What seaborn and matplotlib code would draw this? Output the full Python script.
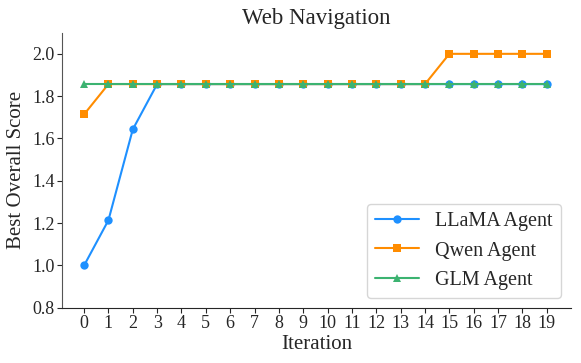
import numpy as np
import pandas as pd
import matplotlib
matplotlib.use("Agg")
import matplotlib.pyplot as plt
import seaborn as sns

iterations = list(range(20))
llama = [1.0, 1.214, 1.643] + [1.857] * 17
qwen = [1.714] + [1.857] * 14 + [2.0] * 5
glm = [1.857] * 20

df = pd.DataFrame({
    'Iteration': iterations * 3,
    'score': llama + qwen + glm,
    'agent': ['LLaMA Agent'] * 20 + ['Qwen Agent'] * 20 + ['GLM Agent'] * 20,
})

sns.set_style('ticks')
plt.rcParams['font.family'] = ['Liberation Serif', 'DejaVu Serif']

fig, ax = plt.subplots(figsize=(5.81, 3.63), dpi=100)
palette = {'LLaMA Agent': '#1E90FF', 'Qwen Agent': '#FF8C00', 'GLM Agent': '#3CB371'}
markers = {'LLaMA Agent': 'o', 'Qwen Agent': 's', 'GLM Agent': '^'}
for name, g in df.groupby('agent', sort=False):
    sns.lineplot(data=g, x='Iteration', y='score', color=palette[name], marker=markers[name],
                 markersize=6, markeredgewidth=0, linewidth=1.5, label=name, ax=ax)

ax.set_title('Web Navigation', fontsize=16.5)
ax.set_xlabel('Iteration', fontsize=15, labelpad=2)
ax.set_ylabel('Best Overall Score', fontsize=15)
ax.set_xticks(iterations)
ax.set_xlim(-0.9, 20)
ax.set_ylim(0.8, 2.1)
ax.set_yticks([0.8, 1.0, 1.2, 1.4, 1.6, 1.8, 2.0])
ax.tick_params(labelsize=13, pad=2)
ax.spines['top'].set_visible(False)
ax.spines['right'].set_visible(False)
ax.spines['left'].set_color('#555555')
ax.legend(loc='lower right', fontsize=14.5, frameon=True, handlelength=2.2)

fig.subplots_adjust(left=0.107, right=0.983, top=0.91, bottom=0.152)
fig.savefig('out.png', dpi=100)
